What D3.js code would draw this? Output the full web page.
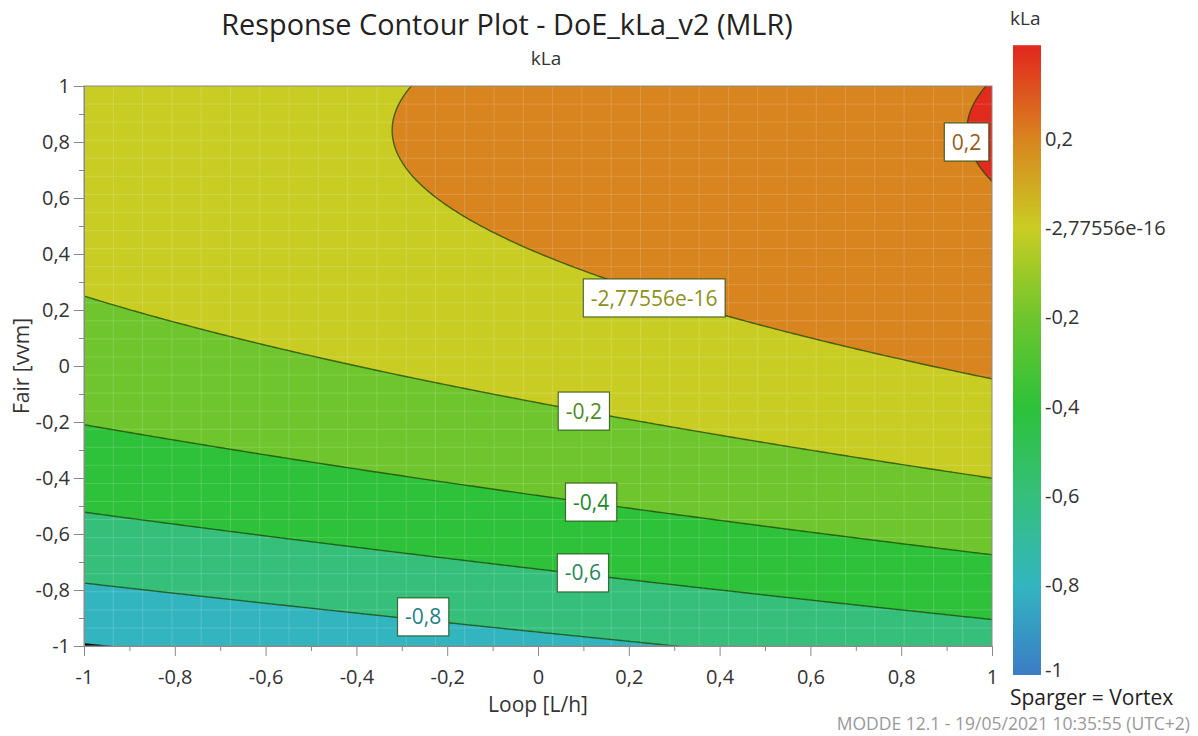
<!DOCTYPE html>
<html>
<head>
<meta charset="utf-8">
<script src="https://cdn.jsdelivr.net/npm/d3@7"></script>
<style>
  html, body { margin: 0; padding: 0; background: #fff; }
  svg { display: block; font-family: "Open Sans", "Noto Sans", sans-serif; }
</style>
</head>
<body>
<svg id="chart" width="1198" height="736"></svg>
<script>
// Fitted MLR model for kLa in coded units (Loop, Fair), Sparger = Vortex
const modelTerms = ["Constant", "Loop", "Fair", "Loop*Fair", "Loop*Loop", "Fair*Fair"];
const modelCoefs = [-0.138, 0.158, 0.448, 0.0, 0.0, -0.265];

// Contour levels drawn in the response plot
const contourLevels = [-1, -0.8, -0.6, -0.4, -0.2, -2.77556e-16, 0.2];

// Inline contour labels: level and anchor (Loop, Fair)
const labelLevels = [0.2, -2.77556e-16, -0.2, -0.4, -0.6, -0.8];
const labelLoop   = [0.944, 0.256, 0.101, 0.117, 0.099, -0.253];
const labelFair   = [0.80, 0.243, -0.161, -0.486, -0.739, -0.896];

// Colour scale (value -> colour)
const colorStops  = [-1, -0.8, -0.6, -0.4, -0.2, 0, 0.2, 0.4];
const colorValues = ["#3b7cc6", "#33b5c0", "#35bf7b", "#2ec13a", "#6ec52d", "#c9cd23", "#d8841f", "#e22a1e"];
const colorbarTicks = [0.2, -2.77556e-16, -0.2, -0.4, -0.6, -0.8, -1];
const colorbarTop = 0.41;

// Axis ticks
const majorTicks = [-1, -0.8, -0.6, -0.4, -0.2, 0, 0.2, 0.4, 0.6, 0.8, 1];
const minorTicks = [-0.9, -0.7, -0.5, -0.3, -0.1, 0.1, 0.3, 0.5, 0.7, 0.9];

const fmt = v => String(v).replace(".", ",");

const svg = d3.select("#chart");
const plot = { left: 84, right: 992, top: 86, bottom: 646 };
const x = d3.scaleLinear().domain([-1, 1]).range([plot.left, plot.right]);
const y = d3.scaleLinear().domain([-1, 1]).range([plot.bottom, plot.top]);
const color = d3.scaleLinear().domain(colorStops).range(colorValues).interpolate(d3.interpolateRgb);

function kla(loop, fair) {
  const t = [1, loop, fair, loop * fair, loop * loop, fair * fair];
  return d3.sum(t, (v, i) => v * modelCoefs[i]);
}

// Evaluate the model on a grid slightly larger than the plotted region
const n = 281, g0 = -1.05, g1 = 1.05;
const gx = c => g0 + (g1 - g0) * c / (n - 1);
const gy = c => g1 - (g1 - g0) * c / (n - 1);
const values = new Float64Array(n * n);
for (let j = 0; j < n; j++) {
  for (let i = 0; i < n; i++) values[j * n + i] = kla(gx(i), gy(j));
}
const contours = d3.contours().size([n, n]).thresholds(contourLevels)(values);
const path = d3.geoPath(d3.geoTransform({
  point(px, py) { this.stream.point(x(gx(px)), y(gy(py))); }
}));

svg.append("clipPath").attr("id", "plot-clip")
  .append("rect")
  .attr("x", plot.left).attr("y", plot.top)
  .attr("width", plot.right - plot.left).attr("height", plot.bottom - plot.top);

const area = svg.append("g").attr("clip-path", "url(#plot-clip)");
area.append("rect")
  .attr("x", plot.left).attr("y", plot.top)
  .attr("width", plot.right - plot.left).attr("height", plot.bottom - plot.top)
  .attr("fill", "#000");

area.selectAll("path.band").data(contours).join("path")
  .attr("class", "band")
  .attr("d", path)
  .attr("fill-rule", "evenodd")
  .attr("fill", (d, i) => color(i + 1 < contourLevels.length ? contourLevels[i + 1] : 0.4));

// Faint rendering mesh over the surface
const meshDiv = 31;
const mesh = area.append("g").attr("stroke", "#ffffff").attr("stroke-opacity", 0.16).attr("stroke-width", 1);
for (let k = 1; k < meshDiv; k++) {
  const px = plot.left + (plot.right - plot.left) * k / meshDiv;
  const py = plot.top + (plot.bottom - plot.top) * k / meshDiv;
  mesh.append("line").attr("x1", px).attr("x2", px).attr("y1", plot.top).attr("y2", plot.bottom);
  mesh.append("line").attr("y1", py).attr("y2", py).attr("x1", plot.left).attr("x2", plot.right);
}

const lineColor = "rgba(25,70,5,0.75)";
area.selectAll("path.iso").data(contours).join("path")
  .attr("class", "iso")
  .attr("d", path)
  .attr("fill", "none")
  .attr("stroke", (d, i) => i === 0 ? "#000" : lineColor)
  .attr("stroke-width", (d, i) => i === 0 ? 2.2 : 1.4);

// Frame
svg.append("rect")
  .attr("x", plot.left).attr("y", plot.top)
  .attr("width", plot.right - plot.left).attr("height", plot.bottom - plot.top)
  .attr("fill", "none").attr("stroke", "#8a8a8a").attr("stroke-width", 1);

// Axes
function styleAxis(g) {
  g.select(".domain").attr("stroke", "#8a8a8a");
  g.selectAll(".tick line").attr("stroke", "#8a8a8a");
  g.selectAll(".tick text").attr("fill", "#333").style("font-size", "20px")
    .style("font-family", "'Open Sans','Noto Sans',sans-serif");
}
svg.append("g").attr("transform", `translate(0,${plot.bottom})`)
  .call(d3.axisBottom(x).tickValues(minorTicks).tickSize(5).tickFormat(""))
  .call(styleAxis);
svg.append("g").attr("transform", `translate(0,${plot.bottom})`)
  .call(d3.axisBottom(x).tickValues(majorTicks).tickSize(10).tickPadding(14).tickFormat(fmt))
  .call(styleAxis);
svg.append("g").attr("transform", `translate(${plot.left},0)`)
  .call(d3.axisLeft(y).tickValues(minorTicks).tickSize(5).tickFormat(""))
  .call(styleAxis);
svg.append("g").attr("transform", `translate(${plot.left},0)`)
  .call(d3.axisLeft(y).tickValues(majorTicks).tickSize(10).tickPadding(4).tickFormat(fmt))
  .call(styleAxis);

// Contour labels
const labels = svg.append("g");
labelLevels.forEach((lv, i) => {
  const cx = x(labelLoop[i]), cy = y(labelFair[i]);
  const grp = labels.append("g");
  const box = grp.append("rect");
  const t = grp.append("text")
    .attr("x", cx).attr("y", cy).attr("dy", "0.36em")
    .attr("text-anchor", "middle")
    .style("font-size", "21px")
    .attr("fill", d3.color(color(lv)).darker(1.0))
    .text(fmt(lv));
  const w = t.node().getComputedTextLength() + 15;
  box.attr("x", cx - w / 2).attr("y", cy - 19).attr("width", w).attr("height", 38)
    .attr("fill", "#fff").attr("stroke", lineColor).attr("stroke-width", 1.2);
});

// Titles
svg.append("text").attr("x", 507).attr("y", 35).attr("text-anchor", "middle")
  .style("font-size", "28.8px").attr("fill", "#222")
  .text("Response Contour Plot - DoE_kLa_v2 (MLR)");
svg.append("text").attr("x", 546).attr("y", 65).attr("text-anchor", "middle")
  .style("font-size", "19px").attr("fill", "#333").text("kLa");
svg.append("text").attr("x", 538).attr("y", 712).attr("text-anchor", "middle")
  .style("font-size", "21px").attr("fill", "#333").text("Loop [L/h]");
svg.append("text").attr("transform", "translate(29,366) rotate(-90)").attr("text-anchor", "middle")
  .style("font-size", "21px").attr("fill", "#333").text("Fair [vvm]");

// Colour bar
const cb = d3.scaleLinear().domain([-1, 0.2]).range([675, 139]);
const cbTopY = cb(colorbarTop), cbBottomY = 675;
const grad = svg.append("defs").append("linearGradient").attr("id", "cbgrad")
  .attr("gradientUnits", "userSpaceOnUse")
  .attr("x1", 0).attr("x2", 0).attr("y1", cbBottomY).attr("y2", cbTopY);
const vBottom = cb.invert(cbBottomY);
const span = colorbarTop - vBottom;
colorStops.forEach((v, i) => {
  grad.append("stop")
    .attr("offset", Math.max(0, Math.min(1, (v - vBottom) / span)))
    .attr("stop-color", colorValues[i]);
});
svg.append("rect").attr("x", 1013).attr("y", cbTopY).attr("width", 28)
  .attr("height", cbBottomY - cbTopY).attr("fill", "url(#cbgrad)");
// the end label sits just inside the bar so it clears the caption below
svg.append("g").selectAll("text").data(colorbarTicks).join("text")
  .attr("x", 1045).attr("y", d => Math.min(cb(d), cbBottomY - 5)).attr("dy", "0.33em")
  .style("font-size", "20px").attr("fill", "#333").text(fmt);
svg.append("text").attr("x", 1010).attr("y", 25)
  .style("font-size", "19px").attr("fill", "#333").text("kLa");

svg.append("text").attr("x", 1010).attr("y", 705)
  .style("font-size", "21px").attr("fill", "#222").text("Sparger = Vortex");
svg.append("text").attr("x", 1190).attr("y", 730).attr("text-anchor", "end")
  .style("font-size", "17.5px").attr("fill", "#999")
  .text("MODDE 12.1 - 19/05/2021 10:35:55 (UTC+2)");
</script>
</body>
</html>
